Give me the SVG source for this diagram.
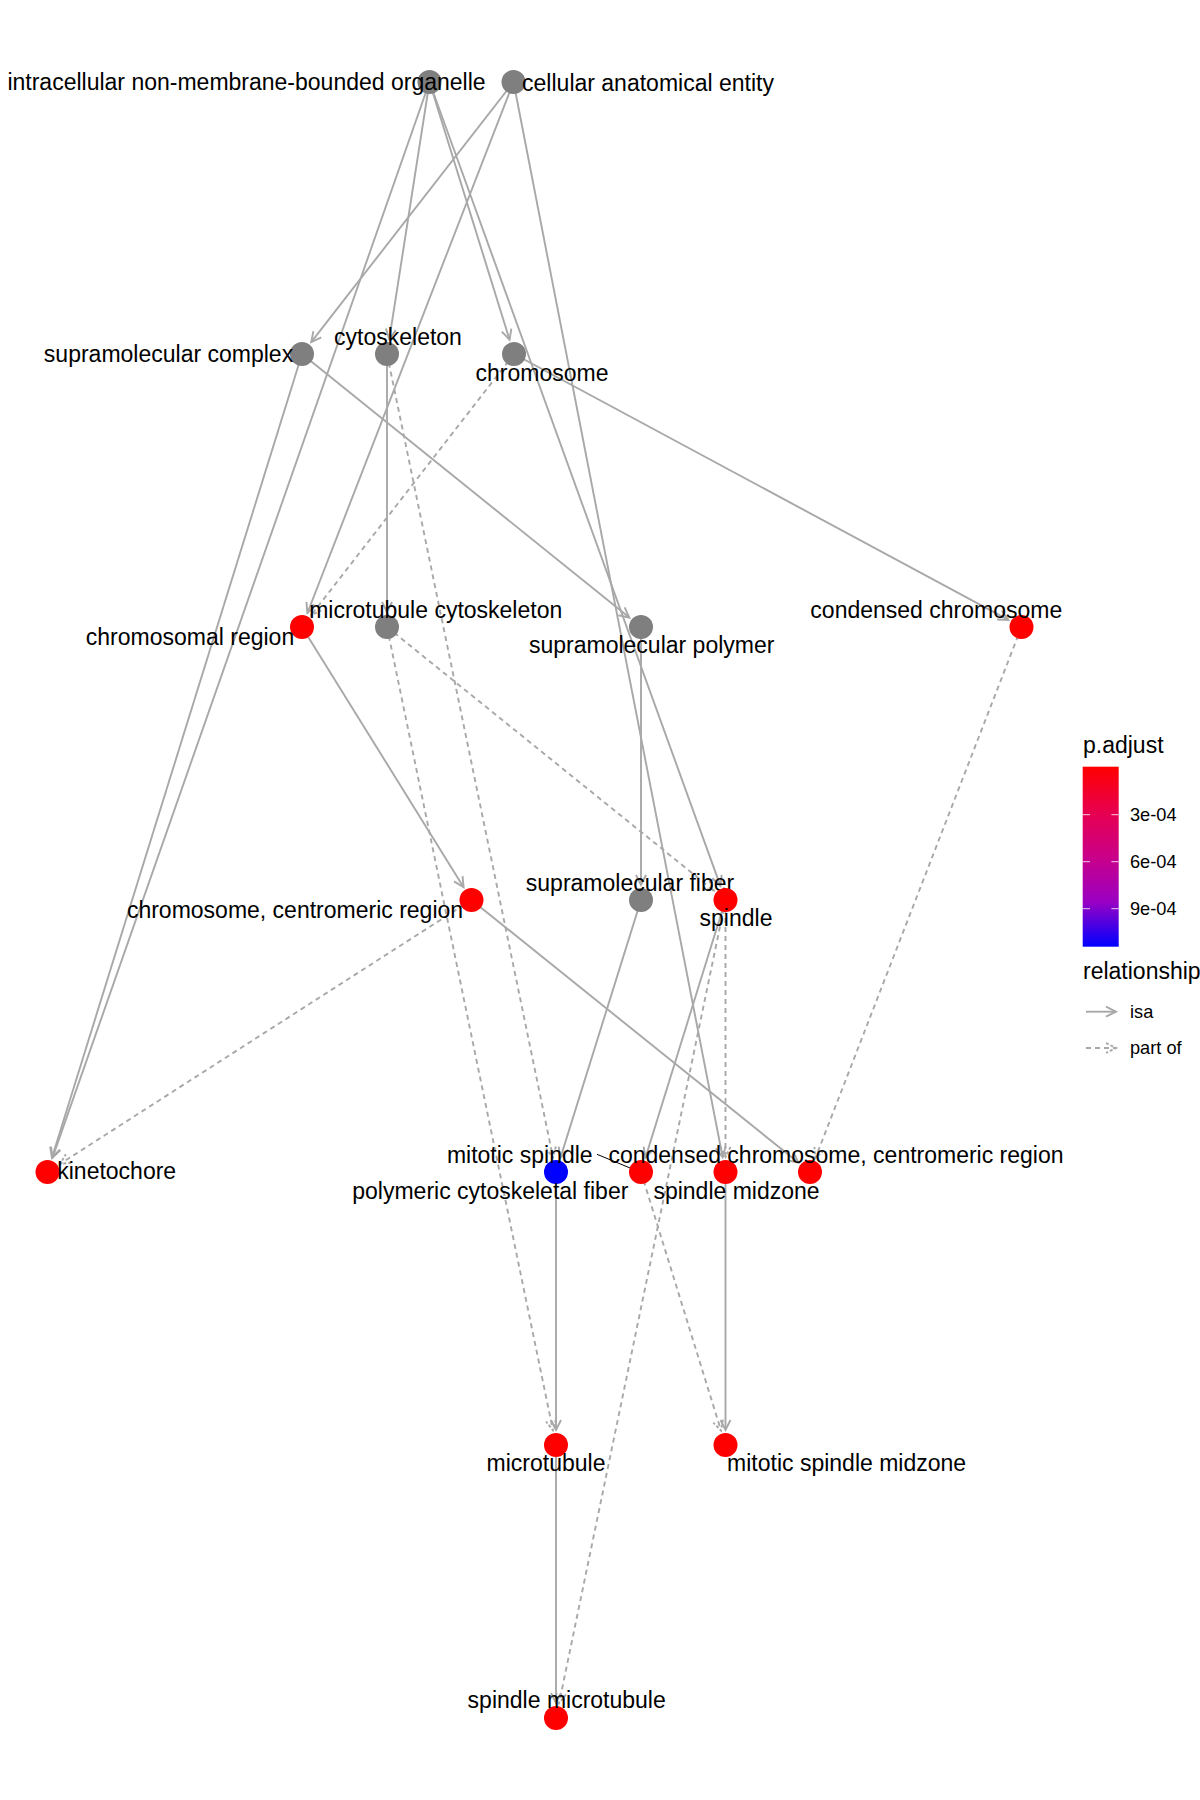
<svg xmlns="http://www.w3.org/2000/svg" width="1200" height="1800" viewBox="0 0 1200 1800">
<style>
.e{fill:none;stroke:#A8A8A8;stroke-width:1.9}
.s{marker-end:url(#arS)}
.d{stroke-dasharray:5 4;marker-end:url(#arD)}
.ng{fill:#7F7F7F}
.nr{fill:#FF0000}
.nb{fill:#0000FF}
text{font-family:"Liberation Sans",Arial,sans-serif;fill:#000}
.lb{font-size:23px;text-anchor:middle}
.lt{font-size:23px}
.ll{font-size:18.2px}
</style>
<defs>
<marker id="arS" markerUnits="userSpaceOnUse" viewBox="0 0 11 12" markerWidth="11" markerHeight="12" refX="10" refY="6" orient="auto" style="overflow:visible">
<path d="M0,1 L10,6 L0,11" fill="none" stroke="#A8A8A8" stroke-width="1.9"/>
</marker>
<marker id="arD" markerUnits="userSpaceOnUse" viewBox="0 0 11 12" markerWidth="11" markerHeight="12" refX="10" refY="6" orient="auto" style="overflow:visible">
<path d="M0,1 L10,6 L0,11" fill="none" stroke="#A8A8A8" stroke-width="1.9" stroke-dasharray="3 2"/>
</marker>
<linearGradient id="grad" x1="0" y1="0" x2="0" y2="1">
<stop offset="0" stop-color="#FF0000"/>
<stop offset="0.25" stop-color="#E8004F"/>
<stop offset="0.5" stop-color="#CA0088"/>
<stop offset="0.75" stop-color="#9A00C3"/>
<stop offset="1" stop-color="#0000FF"/>
</linearGradient>
</defs>
<rect x="0" y="0" width="1200" height="1800" fill="#FFFFFF"/>
<g id="edges">
<line class="e s" x1="429.5" y1="82" x2="389.3" y2="339.2"/>
<line class="e s" x1="429.5" y1="82" x2="509.55" y2="339.67"/>
<line class="e s" x1="429.5" y1="82" x2="52.46" y2="1157.84"/>
<line class="e s" x1="429.5" y1="82" x2="720.4" y2="885.9"/>
<line class="e s" x1="513.5" y1="82" x2="311.2" y2="342.16"/>
<line class="e s" x1="513.5" y1="82" x2="307.43" y2="613.02"/>
<line class="e s" x1="513.5" y1="82" x2="722.64" y2="1157.28"/>
<line class="e s" x1="302" y1="354" x2="51.96" y2="1157.68"/>
<line class="e s" x1="302" y1="354" x2="629.32" y2="617.59"/>
<line class="e s" x1="387" y1="354" x2="387" y2="612"/>
<line class="e d" x1="387" y1="354" x2="552.97" y2="1157.31"/>
<line class="e s" x1="514" y1="354" x2="1008.29" y2="619.89"/>
<line class="e d" x1="514" y1="354" x2="311.2" y2="615.15"/>
<line class="e s" x1="302" y1="627" x2="463.59" y2="887.25"/>
<line class="e d" x1="387" y1="627" x2="552.97" y2="1430.31"/>
<line class="e d" x1="387" y1="627" x2="713.82" y2="890.58"/>
<line class="e s" x1="641" y1="627" x2="641" y2="885"/>
<line class="e d" x1="1021.5" y1="627" x2="815.43" y2="1158.02"/>
<line class="e d" x1="471.5" y1="900" x2="60.13" y2="1163.9"/>
<line class="e s" x1="471.5" y1="900" x2="798.31" y2="1162.6"/>
<line class="e s" x1="641" y1="900" x2="560.47" y2="1157.68"/>
<line class="e s" x1="725.5" y1="900" x2="645.45" y2="1157.67"/>
<line class="e d" x1="725.5" y1="900" x2="725.5" y2="1157"/>
<line class="e d" x1="725.5" y1="900" x2="559.04" y2="1703.31"/>
<line class="e s" x1="556" y1="1172" x2="556" y2="1430"/>
<line class="e d" x1="641" y1="1172" x2="721.06" y2="1430.67"/>
<line class="e s" x1="725.5" y1="1172" x2="725.5" y2="1430"/>
<line class="e s" x1="556" y1="1445" x2="556" y2="1703"/>
</g>
<g id="n-io"><circle class="ng" cx="429.5" cy="82" r="12"/><text class="lb" x="246.5" y="89.5">intracellular non-membrane-bounded organelle</text></g>
<g id="n-cae"><circle class="ng" cx="513.5" cy="82" r="12"/><text class="lb" x="648" y="91">cellular anatomical entity</text></g>
<g id="n-sc"><circle class="ng" cx="302" cy="354" r="12"/><text class="lb" x="168.5" y="362">supramolecular complex</text></g>
<g id="n-cs"><circle class="ng" cx="387" cy="354" r="12"/><text class="lb" x="398" y="345">cytoskeleton</text></g>
<g id="n-ch"><circle class="ng" cx="514" cy="354" r="12"/><text class="lb" x="542" y="381">chromosome</text></g>
<g id="n-cr"><circle class="nr" cx="302" cy="627" r="12"/><text class="lb" x="190" y="645">chromosomal region</text></g>
<g id="n-mc"><circle class="ng" cx="387" cy="627" r="12"/><text class="lb" x="435.7" y="617.7">microtubule cytoskeleton</text></g>
<g id="n-sp"><circle class="ng" cx="641" cy="627" r="12"/><text class="lb" x="651.7" y="652.7">supramolecular polymer</text></g>
<g id="n-cc"><circle class="nr" cx="1021.5" cy="627" r="12"/><text class="lb" x="936.3" y="617.7">condensed chromosome</text></g>
<g id="n-ccr"><circle class="nr" cx="471.5" cy="900" r="12"/><text class="lb" x="295" y="918.3">chromosome, centromeric region</text></g>
<g id="n-sf"><circle class="ng" cx="641" cy="900" r="12"/><text class="lb" x="630" y="891">supramolecular fiber</text></g>
<g id="n-spn"><circle class="nr" cx="725.5" cy="900" r="12"/><text class="lb" x="736" y="926">spindle</text></g>
<g id="n-kt"><circle class="nr" cx="47.5" cy="1172" r="12"/><text class="lb" x="116.7" y="1178.5">kinetochore</text></g>
<g id="n-pcf"><circle class="nb" cx="556" cy="1172" r="12"/><text class="lb" x="490.3" y="1198.7">polymeric cytoskeletal fiber</text></g>
<g id="n-ms"><line x1="597" y1="1154.3" x2="640.5" y2="1172.3" stroke="#000" stroke-width="1"/><circle class="nr" cx="641" cy="1172" r="12"/><text class="lb" x="519.8" y="1163.3">mitotic spindle</text></g>
<g id="n-sm"><circle class="nr" cx="725.5" cy="1172" r="12"/><text class="lb" x="736.5" y="1198.7">spindle midzone</text></g>
<g id="n-cccr"><circle class="nr" cx="810" cy="1172" r="12"/><text class="lb" x="836" y="1163.3">condensed chromosome, centromeric region</text></g>
<g id="n-mt"><circle class="nr" cx="556" cy="1445" r="12"/><text class="lb" x="546" y="1471">microtubule</text></g>
<g id="n-msm"><circle class="nr" cx="725.5" cy="1445" r="12"/><text class="lb" x="846.6" y="1471">mitotic spindle midzone</text></g>
<g id="n-smt"><circle class="nr" cx="556" cy="1718" r="12"/><text class="lb" x="566.7" y="1708.3">spindle microtubule</text></g>
<g id="legend">
<text class="lt" x="1083" y="752.5">p.adjust</text>
<rect x="1082.7" y="766.7" width="36" height="180" fill="url(#grad)"/>
<g stroke="#FFFFFF" stroke-width="1" opacity="0.8">
<line x1="1082.7" y1="814.7" x2="1090" y2="814.7"/><line x1="1111.4" y1="814.7" x2="1118.7" y2="814.7"/>
<line x1="1082.7" y1="861.7" x2="1090" y2="861.7"/><line x1="1111.4" y1="861.7" x2="1118.7" y2="861.7"/>
<line x1="1082.7" y1="908.7" x2="1090" y2="908.7"/><line x1="1111.4" y1="908.7" x2="1118.7" y2="908.7"/>
</g>
<text class="ll" x="1130" y="821.3">3e-04</text>
<text class="ll" x="1130" y="868.3">6e-04</text>
<text class="ll" x="1130" y="915.3">9e-04</text>
<text class="lt" x="1083" y="979">relationship</text>
<line class="e s" x1="1086" y1="1011.7" x2="1116" y2="1011.7"/>
<text class="ll" x="1130" y="1018">isa</text>
<line class="e d" x1="1086" y1="1048" x2="1116" y2="1048"/>
<text class="ll" x="1130" y="1054">part of</text>
</g>
</svg>
